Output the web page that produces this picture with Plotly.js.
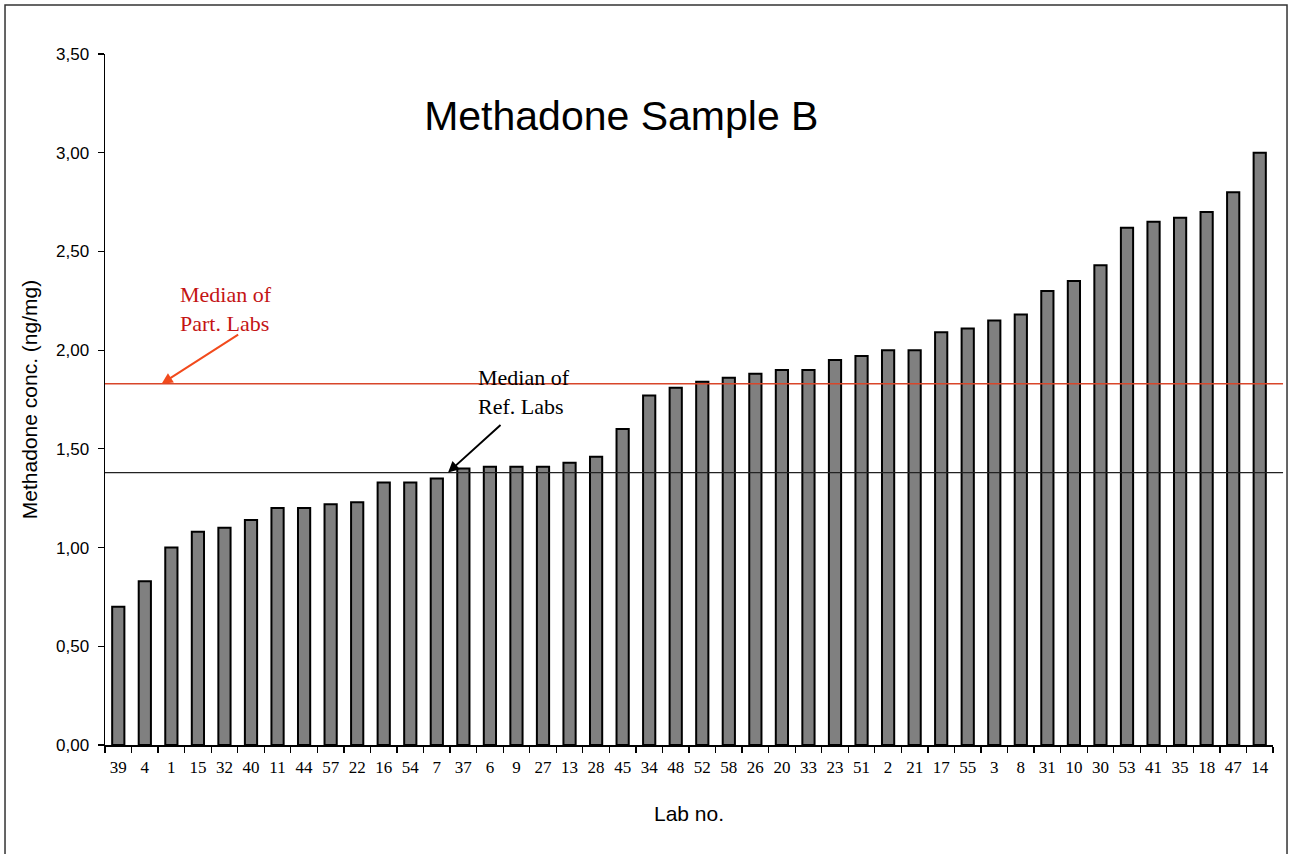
<!DOCTYPE html>
<html>
<head>
<meta charset="utf-8">
<script src="https://cdn.plot.ly/plotly-3.0.1.min.js"></script>
<style>
  html, body { margin: 0; padding: 0; background: #fff; }
  #chart { width: 1289px; height: 854px; }
</style>
</head>
<body>
<div id="chart"></div>
<script>
// Lab numbers (x categories), sorted by concentration
const labs = ["39","4","1","15","32","40","11","44","57","22",
              "16","54","7","37","6","9","27","13","28","45",
              "34","48","52","58","26","20","33","23","51","2",
              "21","17","55","3","8","31","10","30","53","41",
              "35","18","47","14"];
// Methadone concentration (ng/mg)
const conc = [0.70, 0.83, 1.00, 1.08, 1.10, 1.14, 1.20, 1.20, 1.22, 1.23,
              1.33, 1.33, 1.35, 1.40, 1.41, 1.41, 1.41, 1.43, 1.46, 1.60,
              1.77, 1.81, 1.84, 1.86, 1.88, 1.90, 1.90, 1.95, 1.97, 2.00,
              2.00, 2.09, 2.11, 2.15, 2.18, 2.30, 2.35, 2.43, 2.62, 2.65,
              2.67, 2.70, 2.80, 3.00];
const partMedian = 1.83;   // Median of participating labs
const refMedian = 1.38;    // Median of reference labs
const yTicks = [0, 0.5, 1, 1.5, 2, 2.5, 3, 3.5];

const serif = "Liberation Serif, Times New Roman, serif";
const sans = "Liberation Sans, Arial, sans-serif";

const trace = {
  type: "bar",
  x: labs,
  y: conc,
  marker: { color: "#808080", line: { color: "#000000", width: 2 } },
  hoverinfo: "x+y"
};

const layout = {
  width: 1289,
  height: 854,
  margin: { l: 105, r: 16, t: 54, b: 109 },
  paper_bgcolor: "#ffffff",
  plot_bgcolor: "#ffffff",
  separators: ", ",
  bargap: 0.54,
  showlegend: false,
  title: {
    text: "Methadone Sample B",
    font: { family: sans, size: 41, color: "#000" },
    x: 0.482, xanchor: "center",
    y: 0.865, yanchor: "middle"
  },
  xaxis: {
    type: "category",
    showline: true, linecolor: "#000", linewidth: 1.5,
    ticks: "outside", tickson: "boundaries", ticklen: 6, tickcolor: "#000", tickwidth: 1.2,
    tickangle: 0,
    ticklabelstandoff: 6,
    showgrid: false, zeroline: false,
    tickfont: { family: serif, size: 17, color: "#000" },
    automargin: false,
    title: { text: "Lab no.", font: { family: sans, size: 21, color: "#000" }, standoff: 30 }
  },
  yaxis: {
    range: [0, 3.5],
    tickvals: yTicks,
    tickformat: ".2f",
    showline: true, linecolor: "#000", linewidth: 1.5,
    ticks: "outside", ticklen: 6, tickcolor: "#000", tickwidth: 1.2,
    ticklabelstandoff: 5,
    showgrid: false, zeroline: false,
    tickfont: { family: sans, size: 17, color: "#000" },
    automargin: false,
    title: { text: "Methadone conc. (ng/mg)", font: { family: sans, size: 21, color: "#000" }, standoff: 12 }
  },
  shapes: [
    { type: "line", xref: "paper", yref: "y", x0: 0, x1: 1.0086, y0: partMedian, y1: partMedian,
      line: { color: "#d8462a", width: 1.5 }, layer: "above" },
    { type: "line", xref: "paper", yref: "y", x0: 0, x1: 1.0086, y0: refMedian, y1: refMedian,
      line: { color: "#222222", width: 1.3 }, layer: "above" },
    { type: "path", xref: "paper", yref: "paper",
      path: "M -0.0856,-0.17 L -0.0856,1.0709 L 1.012,1.0709 L 1.012,-0.17",
      line: { color: "#333333", width: 1.5 } }
  ],
  annotations: [
    { xref: "paper", yref: "paper", x: 0.0625, y: 0.631, xanchor: "left", yanchor: "middle",
      align: "left", showarrow: false,
      text: "Median of<br>Part. Labs",
      font: { family: serif, size: 22, color: "#c41414" } },
    { xref: "paper", yref: "y", x: 0.0485, y: partMedian, showarrow: true,
      axref: "pixel", ayref: "pixel", ax: 78, ay: -50,
      arrowhead: 2, arrowsize: 1.1, arrowwidth: 2, arrowcolor: "#f24a1c", text: "" },
    { xref: "paper", yref: "paper", x: 0.318, y: 0.511, xanchor: "left", yanchor: "middle",
      align: "left", showarrow: false,
      text: "Median of<br>Ref. Labs",
      font: { family: serif, size: 22, color: "#000" } },
    { xref: "paper", yref: "y", x: 0.2937, y: refMedian, showarrow: true,
      axref: "pixel", ayref: "pixel", ax: 54, ay: -49,
      arrowhead: 2, arrowsize: 1.1, arrowwidth: 2, arrowcolor: "#000", text: "" }
  ]
};

Plotly.newPlot("chart", [trace], layout, { displayModeBar: false, staticPlot: true });
</script>
</body>
</html>
